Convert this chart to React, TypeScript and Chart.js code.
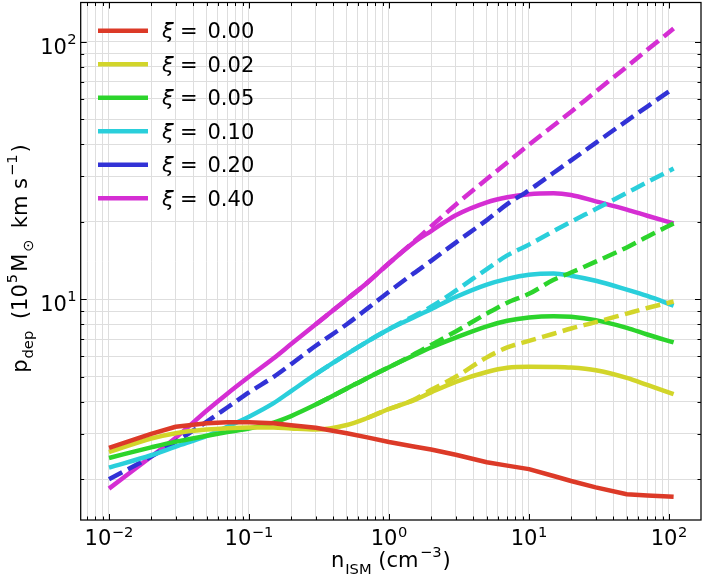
import React, { useEffect, useRef } from "react";
import { Chart, registerables } from "chart.js";

Chart.register(...registerables);

// ---------- data ----------
const nISM = [0.01, 0.02, 0.03, 0.05, 0.07, 0.1, 0.15, 0.2, 0.3, 0.5, 0.7, 1, 1.5, 2, 3, 5, 7, 10, 15, 20, 30, 50, 70, 108];

const xiLabels = ["0.00", "0.02", "0.05", "0.10", "0.20", "0.40"];
const lineColors = ["#dc3a28", "#d2d52a", "#2cd42c", "#2acfdb", "#3232d6", "#d52ed3"];

// solid: with cooling
const pXi000 = [2.65, 3.0, 3.2, 3.3, 3.33, 3.33, 3.3, 3.24, 3.17, 3.02, 2.91, 2.79, 2.68, 2.61, 2.49, 2.33, 2.26, 2.19, 2.06, 1.97, 1.86, 1.75, 1.73, 1.71];
const pXi002 = [2.55, 2.88, 3.02, 3.12, 3.16, 3.18, 3.18, 3.15, 3.12, 3.25, 3.46, 3.75, 4.05, 4.35, 4.78, 5.22, 5.42, 5.47, 5.46, 5.43, 5.3, 4.95, 4.65, 4.28];
const pXi005 = [2.42, 2.66, 2.8, 2.95, 3.05, 3.15, 3.32, 3.52, 3.9, 4.5, 4.95, 5.45, 6.05, 6.5, 7.1, 7.85, 8.25, 8.5, 8.6, 8.55, 8.3, 7.75, 7.3, 6.8];
const pXi010 = [2.22, 2.48, 2.68, 2.95, 3.2, 3.5, 3.95, 4.4, 5.12, 6.12, 6.85, 7.65, 8.5, 9.15, 10.2, 11.4, 12.0, 12.45, 12.6, 12.35, 11.8, 10.9, 10.3, 9.45];
const pXi020: (number | null)[] = [];
const pXi040 = [1.84, 2.45, 2.9, 3.7, 4.3, 5.0, 5.9, 6.7, 8.0, 10.0, 11.6, 13.8, 16.6, 18.4, 21.2, 23.8, 24.9, 25.6, 25.8, 25.4, 24.0, 22.3, 21.1, 19.7];

// dashed: without cooling
const pXi002NoCool = [null, null, null, null, null, null, null, null, null, null, 3.46, 3.75, 4.07, 4.45, 5.0, 5.95, 6.5, 6.9, 7.35, 7.7, 8.15, 8.8, 9.25, 9.8];
const pXi005NoCool = [null, null, null, null, null, null, null, null, 3.9, 4.5, 4.95, 5.45, 6.1, 6.65, 7.5, 8.8, 9.7, 10.5, 11.9, 12.7, 14.0, 15.9, 17.5, 19.7];
const pXi010NoCool = [null, null, null, null, null, null, null, null, 5.12, 6.12, 6.85, 7.65, 8.6, 9.35, 10.8, 13.1, 14.8, 16.3, 18.4, 20.0, 22.4, 25.9, 28.5, 32.2];
const pXi020NoCool = [2.0, 2.45, 2.8, 3.35, 3.8, 4.35, 5.0, 5.6, 6.6, 8.0, 9.2, 10.7, 12.6, 14.1, 16.6, 20.3, 23.4, 26.5, 31.0, 34.6, 40.5, 49.3, 56.0, 66.0];
const pXi040NoCool = [null, null, null, null, null, null, null, null, 8.0, 10.0, 11.6, 13.8, 16.7, 19.2, 23.3, 29.3, 34.0, 39.8, 47.3, 53.5, 64.0, 80.0, 93.0, 112.5];

const solidSeries = [pXi000, pXi002, pXi005, pXi010, pXi020, pXi040];
const dashedSeries = [null, pXi002NoCool, pXi005NoCool, pXi010NoCool, pXi020NoCool, pXi040NoCool];

// axis ranges and major tick exponents
const xMin = Math.pow(10, -2.202);
const xMax = Math.pow(10, 2.229);
const yMin = 1.39;
const yMax = 142;
const xMajorExps = ["−2", "−1", "0", "1", "2"];
const xMajorVals = [0.01, 0.1, 1, 10, 100];
const yMajorExps = ["1", "2"];
const yMajorVals = [10, 100];

// ---------- helpers ----------
const FONT = '"DejaVu Sans"';
const BASE = 21;
const GRID = "#dedede";
const LW = 4.5;

function logTicks(min: number, max: number) {
  const out: number[] = [];
  for (let e = Math.floor(Math.log10(min)); e <= Math.ceil(Math.log10(max)); e++) {
    for (let k = 1; k <= 9; k++) {
      const v = Number((k * Math.pow(10, e)).toPrecision(12));
      if (v >= min && v <= max) out.push(v);
    }
  }
  return out;
}

type Piece = { t: string; s?: number; dy?: number; it?: boolean; gap?: number };

function setFont(ctx: CanvasRenderingContext2D, p: Piece, base: number) {
  const size = base * (p.s ?? 1);
  ctx.font = `${p.it ? "italic " : ""}${size}px ${FONT}`;
}
function piecesWidth(ctx: CanvasRenderingContext2D, pieces: Piece[], base: number) {
  let w = 0;
  for (const p of pieces) {
    setFont(ctx, p, base);
    w += (p.gap ?? 0) + ctx.measureText(p.t).width;
  }
  return w;
}
function drawPieces(ctx: CanvasRenderingContext2D, pieces: Piece[], x: number, y: number, base: number) {
  let cx = x;
  for (const p of pieces) {
    setFont(ctx, p, base);
    cx += p.gap ?? 0;
    ctx.fillText(p.t, cx, y + (p.dy ?? 0));
    cx += ctx.measureText(p.t).width;
  }
}

const decorPlugin = {
  id: "decor",
  afterDraw(chart: any) {
    const ctx: CanvasRenderingContext2D = chart.ctx;
    const { left, right, top, bottom } = chart.chartArea;
    const sx = chart.scales.x;
    const sy = chart.scales.y;
    ctx.save();
    ctx.textAlign = "left";
    ctx.textBaseline = "alphabetic";
    ctx.fillStyle = "#000";
    ctx.strokeStyle = "#000";

    // ticks (inward, all four sides)
    ctx.lineWidth = 1;
    const xt = logTicks(xMin, xMax);
    for (const v of xt) {
      const major = xMajorVals.some((m) => Math.abs(m - v) / m < 1e-9);
      const len = major ? 6 : 3.5;
      const px = Math.round(sx.getPixelForValue(v)) + 0.5;
      ctx.beginPath();
      ctx.moveTo(px, bottom);
      ctx.lineTo(px, bottom - len);
      ctx.moveTo(px, top);
      ctx.lineTo(px, top + len);
      ctx.stroke();
    }
    const yt = logTicks(yMin, yMax);
    for (const v of yt) {
      const major = yMajorVals.some((m) => Math.abs(m - v) / m < 1e-9);
      const len = major ? 6 : 3.5;
      const py = Math.round(sy.getPixelForValue(v)) + 0.5;
      ctx.beginPath();
      ctx.moveTo(left, py);
      ctx.lineTo(left + len, py);
      ctx.moveTo(right, py);
      ctx.lineTo(right - len, py);
      ctx.stroke();
    }

    // spines
    ctx.lineWidth = 1.25;
    ctx.strokeRect(left, top, right - left, bottom - top);

    // x tick labels
    xMajorVals.forEach((v, i) => {
      const pieces: Piece[] = [{ t: "10" }, { t: xMajorExps[i], s: 0.7, dy: -8.5, gap: 0.5 }];
      const w = piecesWidth(ctx, pieces, BASE);
      const px = sx.getPixelForValue(v);
      drawPieces(ctx, pieces, px - w / 2, bottom + 25, BASE);
    });
    // y tick labels
    yMajorVals.forEach((v, i) => {
      const pieces: Piece[] = [{ t: "10" }, { t: yMajorExps[i], s: 0.7, dy: -10, gap: 0.5 }];
      const w = piecesWidth(ctx, pieces, BASE);
      const py = sy.getPixelForValue(v);
      drawPieces(ctx, pieces, left - 4 - w, py + 12, BASE);
    });

    // x axis title
    const xTitle: Piece[] = [
      { t: "n" },
      { t: "ISM", s: 0.7, dy: 6.5, gap: 1 },
      { t: " (", gap: 0 },
      { t: "cm" },
      { t: "−3", s: 0.7, dy: -10, gap: 1.5 },
      { t: ")", gap: 1 },
    ];
    const wx = piecesWidth(ctx, xTitle, BASE);
    drawPieces(ctx, xTitle, (left + right) / 2 - wx / 2, 567, BASE);

    // y axis title (rotated)
    const yTitle: Piece[] = [
      { t: "p" },
      { t: "dep", s: 0.7, dy: 6.5, gap: 1 },
      { t: " (10", gap: 5 },
      { t: "5", s: 0.7, dy: -10, gap: 1 },
      { t: "M", gap: 2 },
      { t: "⊙", s: 0.7, dy: 6.5, gap: 2 },
      { t: " km s", gap: 4.5 },
      { t: "−1", s: 0.7, dy: -10, gap: 2 },
      { t: ")", gap: 2 },
    ];
    const wy = piecesWidth(ctx, yTitle, BASE);
    ctx.save();
    ctx.translate(26.5, 258.5);
    ctx.rotate(-Math.PI / 2);
    drawPieces(ctx, yTitle, -wy / 2, 0, BASE);
    ctx.restore();

    // legend (solid handles only)
    xiLabels.forEach((lab, i) => {
      const ly = top + 28.2 + 33.5 * i;
      ctx.strokeStyle = lineColors[i];
      ctx.lineWidth = LW;
      ctx.lineCap = "butt";
      ctx.beginPath();
      ctx.moveTo(98, ly);
      ctx.lineTo(148, ly);
      ctx.stroke();
      ctx.fillStyle = "#000";
      ctx.font = `italic ${BASE}px ${FONT}`;
      ctx.fillText("ξ", 162, ly + 7.5);
      ctx.font = `${BASE}px ${FONT}`;
      ctx.fillText("=", 180, ly + 7.5);
      ctx.fillText(lab, 207.5, ly + 7.5);
    });

    ctx.restore();
  },
};

export default function App() {
  const ref = useRef<HTMLCanvasElement | null>(null);

  useEffect(() => {
    if (!ref.current) return;
    const datasets: any[] = [];
    solidSeries.forEach((arr, i) => {
      datasets.push({
        label: `ξ = ${xiLabels[i]}`,
        data: arr.map((y, j) => ({ x: nISM[j], y })),
        borderColor: lineColors[i],
        backgroundColor: lineColors[i],
        borderWidth: LW,
        pointRadius: 0,
        fill: false,
        tension: 0,
        cubicInterpolationMode: i === 0 ? "default" : "monotone",
        borderCapStyle: "butt",
        borderJoinStyle: "round",
      });
      const d = dashedSeries[i];
      if (d) {
        datasets.push({
          label: `ξ = ${xiLabels[i]} (no cooling)`,
          data: d.map((y, j) => ({ x: nISM[j], y })),
          borderColor: lineColors[i],
          backgroundColor: lineColors[i],
          borderWidth: LW,
          borderDash: [15, 6.5],
          pointRadius: 0,
          fill: false,
          tension: 0,
          cubicInterpolationMode: "monotone",
          borderCapStyle: "butt",
          borderJoinStyle: "round",
        });
      }
    });

    const chart = new Chart(ref.current, {
      type: "line",
      data: { datasets },
      options: {
        responsive: false,
        animation: false,
        events: [],
        layout: { padding: { left: 80.7, right: 2, top: 2.5, bottom: 60 } },
        plugins: { legend: { display: false }, tooltip: { enabled: false } },
        scales: {
          x: {
            type: "logarithmic",
            bounds: "data",
            min: xMin,
            max: xMax,
            ticks: { display: false },
            grid: { color: GRID, lineWidth: 1, drawTicks: false },
            border: { display: false },
            afterBuildTicks: (s: any) => {
              s.ticks = logTicks(xMin, xMax).map((v) => ({ value: v }));
            },
          },
          y: {
            type: "logarithmic",
            bounds: "data",
            min: yMin,
            max: yMax,
            ticks: { display: false },
            grid: { color: GRID, lineWidth: 1, drawTicks: false },
            border: { display: false },
            afterBuildTicks: (s: any) => {
              s.ticks = logTicks(yMin, yMax).map((v) => ({ value: v }));
            },
          },
        },
      } as any,
      plugins: [decorPlugin],
    });
    return () => chart.destroy();
  }, []);

  return (
    <div style={{ position: "absolute", left: 0, top: 0, width: 703, height: 580, background: "#fff" }}>
      <canvas ref={ref} width={703} height={580} style={{ width: 703, height: 580 }} />
    </div>
  );
}
